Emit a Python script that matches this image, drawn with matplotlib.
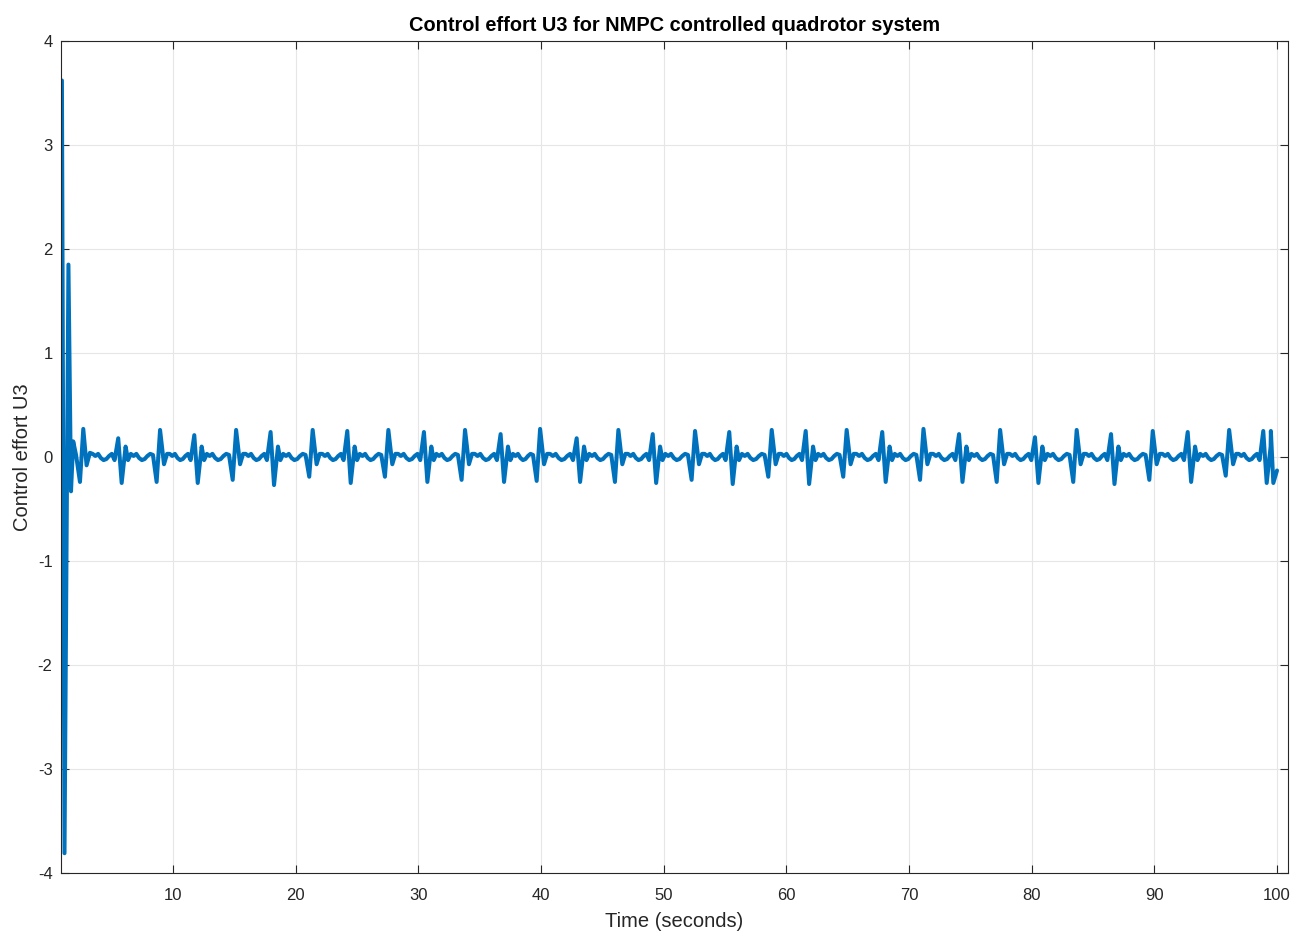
#!/usr/bin/env python3
# Control effort U3 of the NMPC quadrotor, redrawn from the reference picture.
import matplotlib
matplotlib.use('Agg')
import matplotlib.pyplot as plt
import numpy as np

# start-up transient (time s, value)
start_t = [0.95, 1.16, 1.48, 1.69, 1.87, 2.10, 2.42, 2.69, 2.96, 3.23]
start_u = [3.62, -3.81, 1.85, -0.33, 0.15, 0.02, -0.24, 0.27, -0.08, 0.04]

# "A" spikes: up first, then down
a_t = [5.54, 11.74, 17.96, 24.21, 30.46, 36.71, 42.91, 49.11, 55.35, 61.58,
       67.82, 74.08, 80.27, 86.47, 92.72, 98.88]
a_hi = [0.18, 0.21, 0.24, 0.25, 0.24, 0.22, 0.18, 0.22, 0.24, 0.25,
        0.24, 0.22, 0.19, 0.22, 0.24, 0.25]
a_lo = [-0.25, -0.25, -0.27, -0.25, -0.24, -0.24, -0.24, -0.25, -0.26, -0.26,
        -0.24, -0.24, -0.25, -0.26, -0.24, -0.25]

# "B" spikes: down first, then up
b_t = [8.67, 14.87, 21.11, 27.28, 33.53, 39.65, 46.03, 52.28, 58.53, 64.64,
       70.90, 77.15, 83.39, 89.59, 95.82]
b_lo = [-0.24, -0.22, -0.19, -0.19, -0.22, -0.23, -0.24, -0.22, -0.19, -0.19,
        -0.22, -0.24, -0.24, -0.22, -0.18]
b_hi = [0.26, 0.26, 0.26, 0.26, 0.26, 0.27, 0.26, 0.25, 0.26, 0.26,
        0.27, 0.26, 0.26, 0.25, 0.26]

# small ripple between spikes, and the last few samples
ripple_u = [0.03, 0.01, 0.03, -0.01, -0.03, -0.02, 0.01, 0.03]
tail_t = [99.5, 99.7, 100.0]
tail_u = [0.25, -0.25, -0.13]


def build_signal():
    events = [(t, 'A', hi, lo) for t, hi, lo in zip(a_t, a_hi, a_lo)]
    events += [(t, 'B', hi, lo) for t, hi, lo in zip(b_t, b_hi, b_lo)]
    events.sort()

    ts, us = list(start_t), list(start_u)
    for t, kind, hi, lo in events:
        if kind == 'A':
            offs = [-0.3, 0.0, 0.28, 0.6, 0.8]
            vals = [-0.03, hi, lo, 0.10, -0.03]
        else:
            offs = [-0.3, 0.0, 0.28, 0.6, 0.85]
            vals = [0.02, lo, hi, -0.07, 0.03]
        # ripple between the previous spike and this one
        gap = np.linspace(ts[-1], t + offs[0], len(ripple_u) + 2)[1:-1]
        ts += list(gap)
        us += ripple_u
        for o, v in zip(offs, vals):
            if t + o < tail_t[0]:
                ts.append(t + o)
                us.append(v)
    ts += tail_t
    us += tail_u
    return ts, us


def main():
    plt.rcParams['font.family'] = ['Liberation Sans', 'DejaVu Sans']
    plt.rcParams['axes.unicode_minus'] = False

    t, u = build_signal()

    fig = plt.figure(figsize=(12.94, 9.31), dpi=100)
    ax = fig.add_axes([0.0471, 0.0623, 0.9483, 0.8937])
    ax.plot(t, u, color='#0072BD', lw=2.9,
            solid_joinstyle='round', solid_capstyle='round')

    ax.set_xlim(0.87, 100.9)
    ax.set_ylim(-4, 4)
    ax.set_xticks(range(10, 101, 10))
    ax.set_yticks(range(-4, 5))
    ax.grid(True, color='#E6E6E6', lw=0.8)
    ax.set_axisbelow(True)
    ax.tick_params(direction='in', top=True, right=True, length=6, width=0.8,
                   colors='#262626', labelsize=12)
    ax.tick_params(axis='x', pad=11)
    ax.tick_params(axis='y', pad=6)
    for sp in ax.spines.values():
        sp.set_color('#262626')
        sp.set_linewidth(0.8)

    ax.set_title('Control effort U3 for NMPC controlled quadrotor system',
                 fontsize=14.4, fontweight='bold', pad=7)
    ax.set_xlabel('Time (seconds)', fontsize=14.5, color='#262626', labelpad=6)
    ax.set_ylabel('Control effort U3', fontsize=14.5, color='#262626', labelpad=4)

    fig.savefig('out.png', dpi=100)


if __name__ == "__main__":
    main()
